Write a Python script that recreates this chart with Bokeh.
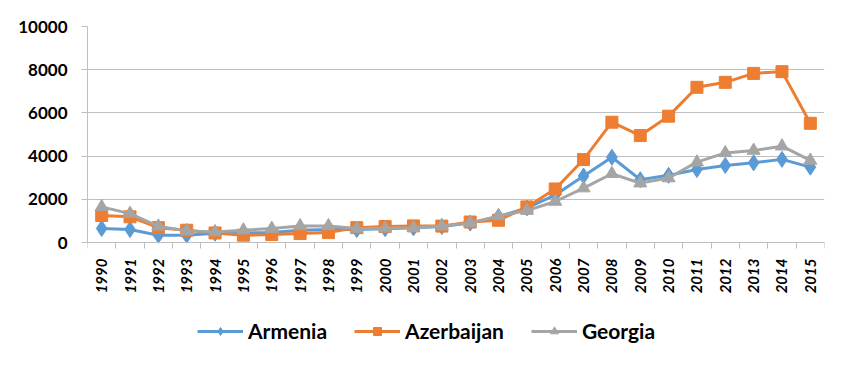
from bokeh.plotting import figure
from bokeh.models import Range1d, FixedTicker, Legend, LegendItem
from bokeh.embed import file_html
from bokeh.resources import INLINE
import math

years = list(range(1990, 2016))
armenia = [650, 600, 340, 340, 430, 440, 470, 570, 600, 600, 640, 680, 740, 900, 1200, 1600,
           2200, 3080, 3950, 2910, 3110, 3380, 3570, 3690, 3850, 3490]
azerbaijan = [1250, 1190, 690, 570, 445, 340, 370, 415, 460, 690, 740, 770, 760, 950, 1030, 1650,
              2480, 3840, 5570, 4950, 5850, 7185, 7415, 7830, 7910, 5520]
georgia = [1650, 1340, 750, 540, 490, 570, 645, 770, 770, 645, 660, 690, 760, 910, 1230, 1480,
           1900, 2520, 3185, 2750, 2985, 3720, 4150, 4260, 4460, 3800]
y_ticks = [0, 2000, 4000, 6000, 8000, 10000]

BLUE = "#5B9BD5"
ORANGE = "#ED7D31"
GRAY = "#A5A5A5"
GRID = "#BFBFBF"
FONT = "Lato"

# the frame extends below zero so that the legend can sit inside it
p = figure(width=850, height=368, output_backend="svg", toolbar_location=None,
           min_border_left=87, min_border_right=26, min_border_top=26, min_border_bottom=8,
           x_range=Range1d(years[0] - 0.5, years[-1] + 0.5), y_range=Range1d(-5460, 10000))
p.outline_line_color = None
p.background_fill_color = "white"
p.border_fill_color = "white"

# x axis drawn at y = 0
p.xaxis.fixed_location = 0
p.xaxis.ticker = FixedTicker(ticks=years, minor_ticks=[y - 0.5 for y in years] + [years[-1] + 0.5])
p.xaxis.major_tick_line_color = None
p.xaxis.minor_tick_line_color = GRID
p.xaxis.minor_tick_out = 6
p.xaxis.minor_tick_in = 0
p.xaxis.axis_line_color = GRID
p.xaxis.axis_line_width = 1
p.xaxis.major_label_orientation = math.pi / 2
p.xaxis.major_label_text_font = FONT
p.xaxis.major_label_text_font_style = "bold italic"
p.xaxis.major_label_text_font_size = "15px"
p.xaxis.major_label_text_color = "black"
p.xaxis.major_label_standoff = 10
p.xgrid.grid_line_color = None

# y axis
p.yaxis.ticker = FixedTicker(ticks=y_ticks)
p.yaxis.bounds = (0, 10000)
p.yaxis.major_tick_line_color = GRID
p.yaxis.major_tick_out = 6
p.yaxis.major_tick_in = 0
p.yaxis.minor_tick_line_color = None
p.yaxis.axis_line_color = GRID
p.yaxis.major_label_text_font = FONT
p.yaxis.major_label_text_font_style = "bold"
p.yaxis.major_label_text_font_size = "17px"
p.yaxis.major_label_text_color = "black"
p.yaxis.major_label_standoff = 14
p.ygrid.grid_line_color = GRID
p.ygrid.grid_line_width = 1

series = [
    ("Armenia", armenia, BLUE, "diamond", 16),
    ("Azerbaijan", azerbaijan, ORANGE, "square", 12),
    ("Georgia", georgia, GRAY, "triangle", 13),
]
items = []
for name, vals, color, marker, size in series:
    l = p.line(years, vals, line_color=color, line_width=3)
    s = p.scatter(years, vals, marker=marker, size=size, fill_color=color, line_color=color)
    items.append(LegendItem(label=name, renderers=[l, s]))

legend = Legend(items=items, orientation="horizontal", location=(110, 17),
                glyph_width=46, glyph_height=20, label_height=20, label_standoff=5,
                spacing=27, padding=0, margin=0, border_line_color=None,
                background_fill_alpha=0,
                label_text_font=FONT, label_text_font_style="bold",
                label_text_font_size="21px", label_text_color="black")
p.add_layout(legend, "center")

open("out.html", "w").write(file_html(p, INLINE))
